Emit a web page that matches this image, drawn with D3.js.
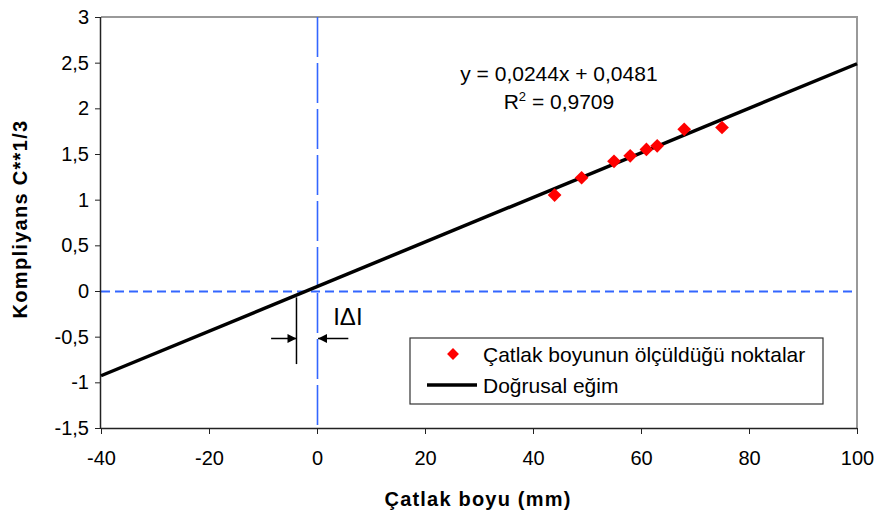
<!DOCTYPE html>
<html>
<head>
<meta charset="utf-8">
<script src="https://cdn.jsdelivr.net/npm/d3@7"></script>
<style>
  body { margin: 0; background: #fff; }
  text { font-family: "Liberation Sans", Arial, sans-serif; }
</style>
</head>
<body>
<svg id="chart"></svg>
<script>
// measured points (crack length mm, compliance^(1/3))
const crackLength = [44, 49, 55, 58, 61, 63, 68, 75];
const compliance = [1.05, 1.24, 1.42, 1.48, 1.55, 1.59, 1.77, 1.79];
const xTicks = [-40, -20, 0, 20, 40, 60, 80, 100];
const yTicks = [-1.5, -1, -0.5, 0, 0.5, 1, 1.5, 2, 2.5, 3];
const slope = 0.0244, intercept = 0.0481;
const fitRange = [-40, 100];
const legendLabels = ["Çatlak boyunun ölçüldüğü noktalar", "Doğrusal eğim"];

document.addEventListener("DOMContentLoaded", function () {
    draw();
});

function draw() {
    const width = 876, height = 516;
    const margin = { left: 101, right: 19, top: 17, bottom: 88 };

    const svg = d3.select("#chart").attr("width", width).attr("height", height);

    const x = d3.scaleLinear().domain([-40, 100]).range([margin.left, width - margin.right]);
    const y = d3.scaleLinear().domain([-1.5, 3]).range([height - margin.bottom, margin.top]);
    const fmt = d => String(d).replace(".", ",");

    // plot frame (gray top/right)
    svg.append("path")
       .attr("d", `M${x(-40)},${y(3)}H${x(100)}V${y(-1.5)}`)
       .attr("fill", "none")
       .attr("stroke", "#999")
       .attr("stroke-width", 2);

    // reference lines through origin
    svg.append("line")
       .attr("x1", x(-40)).attr("x2", x(100))
       .attr("y1", y(0) + 0.5).attr("y2", y(0) + 0.5)
       .attr("stroke", "#3366ff").attr("stroke-width", 2)
       .attr("stroke-dasharray", "9,5");
    svg.append("line")
       .attr("x1", x(0) + 0.5).attr("x2", x(0) + 0.5)
       .attr("y1", y(3)).attr("y2", y(-1.5))
       .attr("stroke", "#3366ff").attr("stroke-width", 1.6)
       .attr("stroke-dasharray", "40,6");

    // axes
    const xAxis = svg.append("g")
       .attr("transform", `translate(0,${y(-1.5)})`)
       .call(d3.axisBottom(x).tickValues(xTicks).tickSize(6).tickFormat(fmt));
    const yAxis = svg.append("g")
       .attr("transform", `translate(${x(-40)},0)`)
       .call(d3.axisLeft(y).tickValues(yTicks).tickSize(6).tickFormat(fmt));

    [xAxis, yAxis].forEach(g => {
        g.select(".domain").attr("stroke", "#222").attr("stroke-width", 1.5);
        g.selectAll(".tick line").attr("stroke", "#222");
        g.selectAll(".tick text")
         .attr("fill", "#000")
         .style("font-size", "20px")
         .style("font-family", "'Liberation Sans', Arial, sans-serif");
    });
    xAxis.selectAll(".tick text").attr("y", 23);
    xAxis.select(".domain").attr("d", `M${x(-40)},0.5H${x(100)}`);
    yAxis.select(".domain").attr("d", `M-0.5,${y(-1.5)}V${y(3)}`);
    yAxis.selectAll(".tick text").attr("x", -12);

    // axis titles
    svg.append("text")
       .attr("x", 478)
       .attr("y", 506)
       .attr("text-anchor", "middle")
       .style("font-size", "20px")
       .style("font-weight", "bold")
       .style("letter-spacing", "1.2px")
       .text("Çatlak boyu (mm)");
    svg.append("text")
       .attr("transform", "translate(27,219) rotate(-90)")
       .attr("text-anchor", "middle")
       .style("font-size", "20px")
       .style("font-weight", "bold")
       .style("letter-spacing", "1.3px")
       .text("Kompliyans C**1/3");

    // regression line
    const line = d3.line().x(d => x(d)).y(d => y(slope * d + intercept));
    svg.append("path")
       .datum(fitRange)
       .attr("d", line)
       .attr("fill", "none")
       .attr("stroke", "#000")
       .attr("stroke-width", 3.5);

    // data points
    const diamond = d3.symbol().type(d3.symbolDiamond2).size(120);
    svg.selectAll(".pt")
       .data(crackLength)
       .enter()
       .append("path")
       .attr("class", "pt")
       .attr("transform", (d, i) => `translate(${x(d)},${y(compliance[i])})`)
       .attr("d", diamond)
       .attr("fill", "#ff0000");

    // equation
    const eq = svg.append("g").attr("transform", `translate(${x(44.8)},0)`);
    eq.append("text")
      .attr("y", y(2.295))
      .attr("text-anchor", "middle")
      .style("font-size", "21px")
      .text("y = 0,0244x + 0,0481");
    const r2 = eq.append("text")
      .attr("y", y(1.988))
      .attr("text-anchor", "middle")
      .style("font-size", "21px");
    r2.append("tspan").text("R");
    r2.append("tspan").attr("dy", -8).style("font-size", "13px").text("2");
    r2.append("tspan").attr("dy", 8).text(" = 0,9709");

    // |Δ| annotation
    const ax = -3.8, ay = -0.52;
    svg.append("line")
       .attr("x1", x(ax)).attr("x2", x(ax))
       .attr("y1", y(-0.07)).attr("y2", y(-0.8))
       .attr("stroke", "#000").attr("stroke-width", 1.5);
    svg.append("defs").append("marker")
       .attr("id", "arrow")
       .attr("viewBox", "0 0 10 10")
       .attr("refX", 10).attr("refY", 5)
       .attr("markerWidth", 9).attr("markerHeight", 9)
       .attr("markerUnits", "userSpaceOnUse")
       .attr("orient", "auto")
       .append("path")
       .attr("d", "M0,0L10,5L0,10Z")
       .attr("fill", "#000");
    svg.append("line")
       .attr("x1", x(-8.5)).attr("x2", x(ax))
       .attr("y1", y(ay)).attr("y2", y(ay))
       .attr("stroke", "#000").attr("stroke-width", 1.5)
       .attr("marker-end", "url(#arrow)");
    svg.append("line")
       .attr("x1", x(5.8)).attr("x2", x(0.2))
       .attr("y1", y(ay)).attr("y2", y(ay))
       .attr("stroke", "#000").attr("stroke-width", 1.5)
       .attr("marker-end", "url(#arrow)");
    svg.append("text")
       .attr("x", x(3))
       .attr("y", y(-0.37))
       .style("font-size", "24px")
       .text("IΔI");

    // legend
    const legend = svg.append("g").attr("transform", "translate(410,338)");
    legend.append("rect")
          .attr("width", 413).attr("height", 66)
          .attr("fill", "#fff")
          .attr("stroke", "#333").attr("stroke-width", 1.2);
    legend.append("path")
          .attr("transform", "translate(43,16)")
          .attr("d", d3.symbol().type(d3.symbolDiamond2).size(90))
          .attr("fill", "#ff0000");
    legend.append("line")
          .attr("x1", 17).attr("x2", 67)
          .attr("y1", 47).attr("y2", 47)
          .attr("stroke", "#000").attr("stroke-width", 3.5);
    legend.selectAll(".lt")
          .data(legendLabels)
          .enter()
          .append("text")
          .attr("class", "lt")
          .attr("x", 73)
          .attr("y", (d, i) => 16 + i * 31)
          .attr("dy", "0.36em")
          .style("font-size", "21px")
          .text(d => d);
}
</script>
</body>
</html>
